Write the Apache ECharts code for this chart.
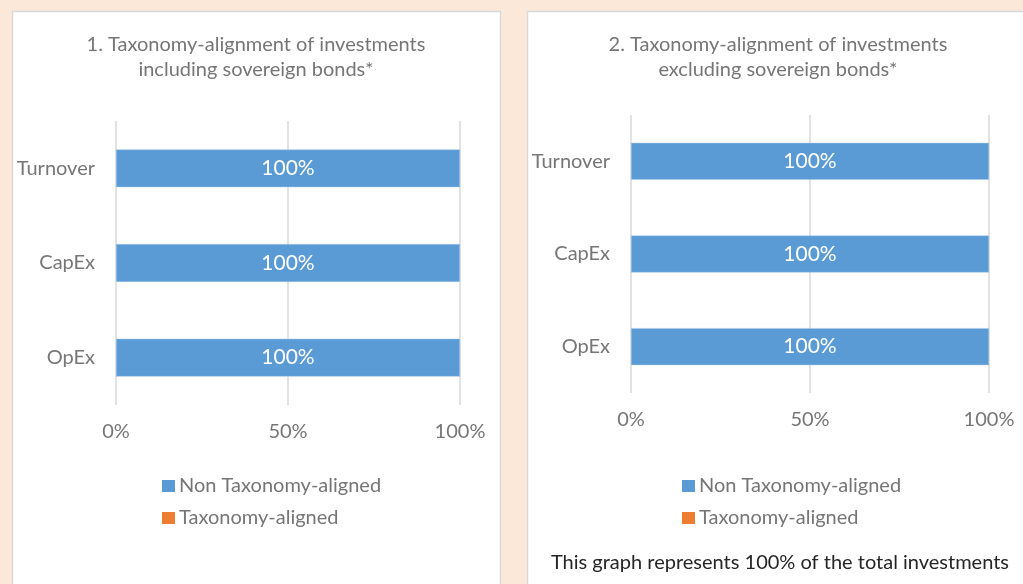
<!DOCTYPE html>
<html>
<head>
<meta charset="utf-8">
<script src="https://cdn.jsdelivr.net/npm/echarts@6/dist/echarts.min.js"></script>
<style>
html,body{margin:0;padding:0;background:#FBE8D8;}
#chart{width:1023px;height:584px;}
</style>
</head>
<body>
<div id="chart"></div>
<script>
const categories = ['Turnover', 'CapEx', 'OpEx'];
const xTicks = [0, 50, 100];
const panel1Aligned = [0, 0, 0];
const panel1NonAligned = [100, 100, 100];
const panel2Aligned = [0, 0, 0];
const panel2NonAligned = [100, 100, 100];
const seriesNames = ['Non Taxonomy-aligned', 'Taxonomy-aligned'];
const titles = ['1. Taxonomy-alignment of investments\nincluding sovereign bonds*',
                '2. Taxonomy-alignment of investments\nexcluding sovereign bonds*'];
const footnote = 'This graph represents 100% of the total investments';

const FONT = 'Lato, "Noto Sans", sans-serif';
const GRAY = '#767676';
const BLUE = '#5B9BD5';
const ORANGE = '#ED7D31';

function xAxis(gi) {
  return {
    type: 'value', gridIndex: gi, min: 0, max: 100, interval: 50,
    axisLine: {show: false}, axisTick: {show: false},
    axisLabel: {formatter: v => xTicks.includes(v) ? v + '%' : '', color: GRAY, fontFamily: FONT, fontSize: 20, margin: 17},
    splitLine: {show: true, lineStyle: {color: '#D9D9D9', width: 1.5}}
  };
}
function yAxis(gi) {
  return {
    type: 'category', gridIndex: gi, data: categories, inverse: true,
    axisLine: {show: false}, axisTick: {show: false},
    axisLabel: {color: GRAY, fontFamily: FONT, fontSize: 20, margin: 21}
  };
}
function bars(gi, aligned, non) {
  return [
    {name: seriesNames[1], type: 'bar', stack: 's' + gi, xAxisIndex: gi, yAxisIndex: gi, data: aligned,
     barWidth: '40%', itemStyle: {color: ORANGE}, label: {show: false}},
    {name: seriesNames[0], type: 'bar', stack: 's' + gi, xAxisIndex: gi, yAxisIndex: gi, data: non,
     barWidth: '40%', itemStyle: {color: BLUE, borderColor: '#a9c8e8', borderWidth: 0.5},
     label: {show: true, position: 'inside', formatter: '{c}%', color: '#ffffff', fontFamily: FONT, fontSize: 21}}
  ];
}
function legend(left, top) {
  return {
    data: seriesNames, orient: 'vertical', left: left, top: top,
    itemWidth: 13, itemHeight: 12, itemGap: 12, icon: 'rect',
    itemStyle: {borderWidth: 0},
    textStyle: {color: GRAY, fontFamily: FONT, fontSize: 20, lineHeight: 20, padding: [0, 0, 0, -1]},
    selectedMode: false
  };
}

const chart = echarts.init(document.getElementById('chart'));
chart.setOption({
  backgroundColor: '#FBE8D8',
  animation: false,
  graphic: [
    {type: 'rect', z: -10, shape: {x: 12.5, y: 11.5, width: 488, height: 600},
     style: {fill: '#ffffff', stroke: '#D9D9D9', lineWidth: 1.5}},
    {type: 'rect', z: -10, shape: {x: 527.5, y: 11.5, width: 520, height: 600},
     style: {fill: '#ffffff', stroke: '#D9D9D9', lineWidth: 1.5}},
    {type: 'text', x: 256, y: 32, style: {text: titles[0], fill: GRAY, font: '20px ' + FONT, textAlign: 'center', lineHeight: 25}},
    {type: 'text', x: 778, y: 32, style: {text: titles[1], fill: GRAY, font: '20px ' + FONT, textAlign: 'center', lineHeight: 25}},
    {type: 'text', x: 780, y: 563, style: {text: footnote, fill: '#262626', font: '20px ' + FONT, textAlign: 'center', textVerticalAlign: 'middle'}}
  ],
  grid: [
    {left: 116, right: 563, top: 121, bottom: 179},
    {left: 631, right: 34, top: 115, bottom: 191}
  ],
  xAxis: [xAxis(0), xAxis(1)],
  yAxis: [yAxis(0), yAxis(1)],
  legend: [legend(157, 471), legend(677, 471)],
  series: [].concat(bars(0, panel1Aligned, panel1NonAligned), bars(1, panel2Aligned, panel2NonAligned))
});
</script>
</body>
</html>
